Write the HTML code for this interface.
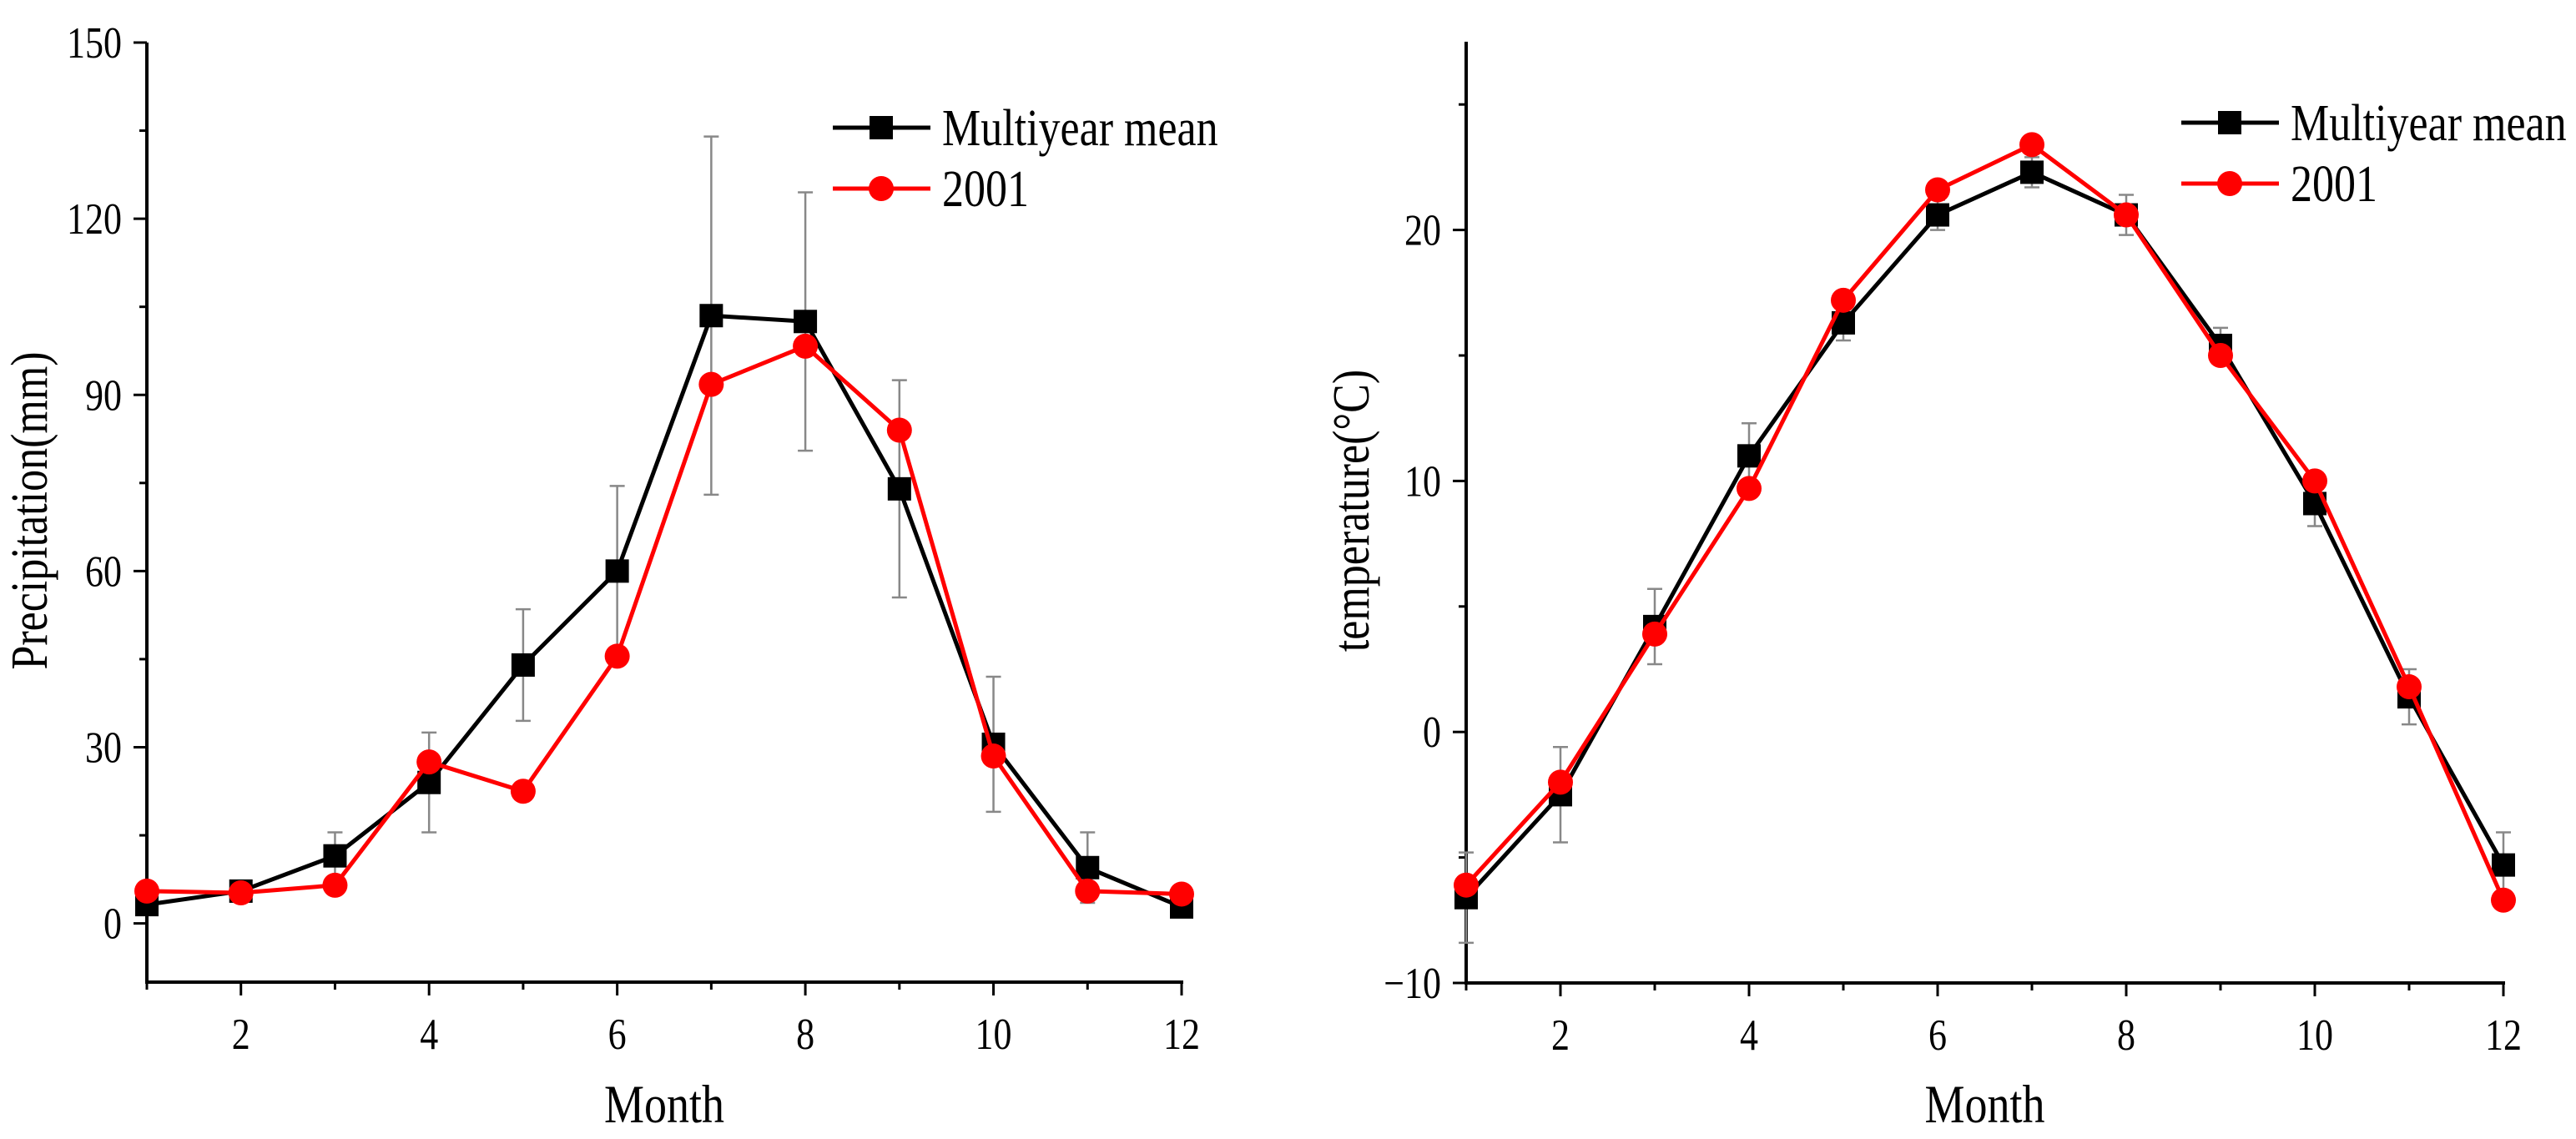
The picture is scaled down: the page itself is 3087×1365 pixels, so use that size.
<!DOCTYPE html>
<html><head><meta charset="utf-8"><style>
html,body{margin:0;padding:0;background:#fff;}
svg{display:block;font-family:"Liberation Serif",serif;}
</style></head><body>
<svg id="chart" width="3087" height="1365" viewBox="0 0 3087 1365" xmlns="http://www.w3.org/2000/svg"></svg>
<script>
const months = [1,2,3,4,5,6,7,8,9,10,11,12];
const precipMean = [3.2,5.5,11.5,24,44,60,103.5,102.5,74,30.5,9.5,2.8];
const precipErr = [0.8,1,4,8.5,9.5,14.5,30.5,22,18.5,11.5,6,1];
const precip2001 = [5.5,5.2,6.5,27.5,22.5,45.5,91.8,98.3,84,28.5,5.5,5];
const tempMean = [-6.6,-2.5,4.2,11,16.3,20.6,22.3,20.6,15.4,9.1,1.4,-5.3];
const tempErr = [1.8,1.9,1.5,1.3,0.7,0.6,0.6,0.8,0.7,0.9,1.1,1.3];
const temp2001 = [-6.1,-2,3.9,9.7,17.2,21.6,23.4,20.6,15,10,1.8,-6.7];
const xTicks = [2,4,6,8,10,12];
const precipTicks = [0,30,60,90,120,150];
const tempTicks = [-10,0,10,20];
const legendLabels = ["Multiyear mean","2001"];

const NS="http://www.w3.org/2000/svg";
const svg=document.getElementById('chart');
function mk(tag,attrs,parent){const e=document.createElementNS(NS,tag);for(const k in attrs)e.setAttribute(k,attrs[k]);(parent||svg).appendChild(e);return e;}
function txt(parent,x,y,size,anchor,str,extra){
  const t=mk('text',{x:0,y:0,'font-size':size,'text-anchor':anchor,fill:'#000',transform:`translate(${x},${y}) ${extra||''} scale(1,1.2)`},parent);
  t.textContent=str;
  return t;
}

function drawPanel(p){
  const g=mk('g',{});
  
  
  const sx=v=>p.x0+(v-1)/(11)*(p.x1-p.x0);
  const sy=v=>p.yb+(v-p.ymin)/(p.ymax-p.ymin)*(p.yt-p.yb);
  const ya=mk('line',{x1:p.x0,y1:p.yt,x2:p.x0,y2:p.yb,stroke:'#000','stroke-width':4},g);
  
  
  const xa=mk('line',{x1:p.x0-2,y1:p.yb,x2:p.x1+2,y2:p.yb,stroke:'#000','stroke-width':4},g);
  
  
  for(let m=1;m<=12;m++){
    const major=xTicks.includes(m);
    mk('line',{x1:sx(m),x2:sx(m),y1:p.yb,y2:p.yb+(major?16:9),stroke:'#000','stroke-width':3},g);
  }
  xTicks.forEach(m=>{
    const t=txt(g,sx(m),p.yb+80,44,'middle',m);
    
    
  });
  for(let v=p.minorStart;v<=p.ymax+0.001;v+=p.minorStep){
    const major=p.ticks.some(t=>Math.abs(t-v)<1e-6);
    mk('line',{x1:p.x0-(major?16:9),x2:p.x0,y1:sy(v),y2:sy(v),stroke:'#000','stroke-width':3},g);
  }
  p.ticks.forEach(v=>{
    const t=txt(g,p.x0-30,sy(v)+18,44,'end',v<0?'\u2212'+(-v):v);
    
    
  });
  const xt=txt(g,(p.x0+p.x1)/2,1345,54,'middle','Month');
  
  
  const yt=mk('text',{x:0,y:0,'font-size':52,'text-anchor':'middle',fill:'#000',transform:`translate(${p.ytx},612) rotate(-90) scale(1.0,1.2)`},g);
  yt.textContent=p.ytitle;
  
  
  months.forEach((m,i)=>{
    const x=sx(m),hi=sy(p.mean[i]+p.err[i]),lo=sy(p.mean[i]-p.err[i]);
    const eb=mk('path',{d:`M${x},${hi}V${lo}M${x-9},${hi}H${x+9}M${x-9},${lo}H${x+9}`,stroke:'#888','stroke-width':2.5,fill:'none'},g);
    
    
  });
  const series=[{vals:p.mean,color:'#000',shape:'sq',name:'multiyear-mean'},{vals:p.y2001,color:'#f00',shape:'ci',name:'series-2001'}];
  series.forEach(s=>{
    const d=s.vals.map((v,i)=>(i?'L':'M')+sx(months[i])+','+sy(v)).join('');
    const l=mk('path',{d,stroke:s.color,'stroke-width':5,fill:'none'},g);
    
    
    s.vals.forEach((v,i)=>{
      let e;
      if(s.shape==='sq') e=mk('rect',{x:sx(months[i])-14,y:sy(v)-14,width:28,height:28,fill:s.color},g);
      else e=mk('circle',{cx:sx(months[i]),cy:sy(v),r:15,fill:s.color},g);
      
      
    });
  });
  series.forEach((s,i)=>{
    const y=p.legY+i*73;
    const lg=mk('g',{},g);
    
    
    mk('line',{x1:p.legX,x2:p.legX+117,y1:y,y2:y,stroke:s.color,'stroke-width':5},lg);
    if(s.shape==='sq') mk('rect',{x:p.legX+58-14,y:y-14,width:28,height:28,fill:s.color},lg);
    else mk('circle',{cx:p.legX+58,cy:y,r:15,fill:s.color},lg);
    txt(lg,p.legX+131,y+21,52,'start',legendLabels[i]);
  });
}
drawPanel({name:'precipitation-chart',x0:176,x1:1416,yt:51,yb:1177,ymin:-10,ymax:150,ticks:precipTicks,minorStart:0,minorStep:15,
  mean:precipMean,err:precipErr,y2001:precip2001,ytitle:'Precipitation(mm)',ytx:56,legX:998,legY:153});
drawPanel({name:'temperature-chart',x0:1757,x1:3000,yt:50,yb:1178,ymin:-10,ymax:27.5,ticks:tempTicks,minorStart:-10,minorStep:5,
  mean:tempMean,err:tempErr,y2001:temp2001,ytitle:'temperature(°C)',ytx:1640,legX:2614,legY:147});
</script>
</body></html>
